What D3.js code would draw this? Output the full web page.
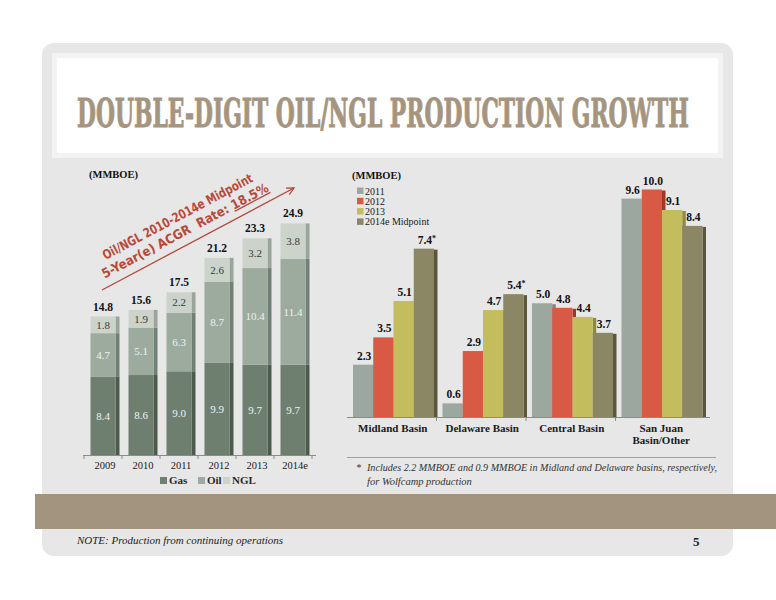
<!DOCTYPE html>
<html>
<head>
<meta charset="UTF-8">
<title>Double-Digit Oil/NGL Production Growth</title>
<script src="https://d3js.org/d3.v7.min.js"></script>
<style>
  body {margin: 0; background: #fff;}
  text {font-family: "Liberation Serif", serif;}
  .num {font-weight: bold; fill: #111; font-size: 11.5px;}
  .seg {font-size: 11px;}
  .cat {font-weight: bold; fill: #1a1a1a; font-size: 11px;}
</style>
</head>
<body>
<div id="chart"></div>
<script>
// ---- left chart data (MMBOE)
var years = ["2009", "2010", "2011", "2012", "2013", "2014e"];
var gas = [8.4, 8.6, 9.0, 9.9, 9.7, 9.7];
var oil = [4.7, 5.1, 6.3, 8.7, 10.4, 11.4];
var ngl = [1.8, 1.9, 2.2, 2.6, 3.2, 3.8];
var totals = [14.8, 15.6, 17.5, 21.2, 23.3, 24.9];
var products = ["Gas", "Oil", "NGL"];

// ---- right chart data (MMBOE)
var basins = ["Midland Basin", "Delaware Basin", "Central Basin", "San Juan Basin/Other"];
var periods = ["2011", "2012", "2013", "2014e Midpoint"];
var v2011 = [2.3, 0.6, 5.0, 9.6];
var v2012 = [3.5, 2.9, 4.8, 10.0];
var v2013 = [5.1, 4.7, 4.4, 9.1];
var v2014 = [7.4, 5.4, 3.7, 8.4];
var starred2014 = [true, true, false, false];

var svg = d3.select("#chart").append("svg")
    .attr("width", 776)
    .attr("height", 600);

// slide background
svg.append("rect").attr("x", 42).attr("y", 43).attr("width", 691).attr("height", 513)
    .attr("rx", 12).attr("fill", "#e7e7e7");
svg.append("rect").attr("x", 52).attr("y", 53).attr("width", 671).attr("height", 105).attr("fill", "#f3f3f3");
svg.append("rect").attr("x", 57).attr("y", 58).attr("width", 661).attr("height", 95).attr("fill", "#fff");

// title: squeeze horizontally to the condensed look of the slide
var titleG = svg.append("g");
var title = titleG.append("text")
    .attr("text-anchor", "middle")
    .style("font-family", "'DejaVu Serif Condensed', 'DejaVu Serif', serif")
    .style("font-weight", "bold").style("font-size", "39px")
    .attr("fill", "#a5957f").attr("stroke", "#a5957f").attr("stroke-width", 0.9)
    .text("DOUBLE-DIGIT OIL/NGL PRODUCTION GROWTH");
var natural = title.node().getComputedTextLength();
titleG.attr("transform", "translate(383,127) scale(" + (612 / natural) + ",1)");

svg.append("rect").attr("x", 35).attr("y", 494).attr("width", 741).attr("height", 35).attr("fill", "#a39480");

// ================= left: stacked bars =================
var x = d3.scaleBand().domain(years).range([84, 312]).paddingInner(0.342).paddingOuter(0.171);
var y = d3.scaleLinear().domain([0, 25]).range([455, 222.5]);
var faces = {Gas: "#6e7f70", Oil: "#9dab9f", NGL: "#cbd3cb"};
var sides = {Gas: "#4d5b4f", Oil: "#718076", NGL: "#9aa49b"};
var segText = {Gas: "#eef1ee", Oil: "#eef1ee", NGL: "#3a3a3a"};

var rows = years.map(function(d, i) { return {year: d, Gas: gas[i], Oil: oil[i], NGL: ngl[i]}; });
var stacked = d3.stack().keys(products)(rows);

var left = svg.append("g");
var layer = left.selectAll("g.layer").data(stacked).enter().append("g").attr("class", "layer");
layer.selectAll("rect.side").data(function(s) { return s.map(function(p) { return {key: s.key, p: p}; }); })
  .enter().append("rect")
    .attr("x", function(d) { return x(d.p.data.year) + x.bandwidth(); })
    .attr("y", function(d) { return y(d.p[1]); })
    .attr("width", 4)
    .attr("height", function(d) { return y(d.p[0]) - y(d.p[1]); })
    .attr("fill", function(d) { return sides[d.key]; });
layer.selectAll("rect.face").data(function(s) { return s.map(function(p) { return {key: s.key, p: p}; }); })
  .enter().append("rect")
    .attr("x", function(d) { return x(d.p.data.year); })
    .attr("y", function(d) { return y(d.p[1]); })
    .attr("width", x.bandwidth())
    .attr("height", function(d) { return y(d.p[0]) - y(d.p[1]); })
    .attr("fill", function(d) { return faces[d.key]; });
layer.selectAll("text").data(function(s) { return s.map(function(p) { return {key: s.key, p: p}; }); })
  .enter().append("text")
    .attr("class", "seg")
    .attr("x", function(d) { return x(d.p.data.year) + x.bandwidth() / 2; })
    .attr("y", function(d) { return (y(d.p[0]) + y(d.p[1])) / 2 + 4; })
    .attr("text-anchor", "middle")
    .attr("fill", function(d) { return segText[d.key]; })
    .text(function(d) { return d.p.data[d.key].toFixed(1); });

left.selectAll("text.num").data(years).enter().append("text")
    .attr("class", "num")
    .attr("x", function(d) { return x(d) + x.bandwidth() / 2; })
    .attr("y", function(d, i) { return y(totals[i]) - 6; })
    .attr("text-anchor", "middle")
    .text(function(d, i) { return totals[i].toFixed(1); });

// axis
left.append("line").attr("x1", 83).attr("x2", 316).attr("y1", 455.5).attr("y2", 455.5)
    .attr("stroke", "#8a8a8a");
var step = x.step();
left.selectAll("line.tick").data(d3.range(years.length + 1)).enter().append("line")
    .attr("x1", function(k) { return 84 + k * step; }).attr("x2", function(k) { return 84 + k * step; })
    .attr("y1", 455).attr("y2", 459).attr("stroke", "#8a8a8a");
left.selectAll("text.yr").data(years).enter().append("text")
    .attr("x", function(d) { return x(d) + x.bandwidth() / 2 + 2; })
    .attr("y", 469)
    .attr("text-anchor", "middle")
    .style("font-size", "10.5px").attr("fill", "#1a1a1a")
    .text(function(d) { return d; });

// legend
var legX = [160, 198, 223];
products.forEach(function(p, i) {
  left.append("rect").attr("x", legX[i]).attr("y", 477).attr("width", 7).attr("height", 7).attr("fill", faces[p]);
  left.append("text").attr("x", legX[i] + 9).attr("y", 484)
      .style("font-size", "11px").style("font-weight", "bold").attr("fill", "#2a2a2a").text(p);
});

left.append("text").attr("x", 89).attr("y", 178)
    .style("font-size", "10.5px").style("font-weight", "bold").attr("fill", "#111").text("(MMBOE)");

// growth arrow
svg.append("defs").append("marker")
    .attr("id", "head").attr("viewBox", "0 0 10 10").attr("refX", 9).attr("refY", 5)
    .attr("markerWidth", 9).attr("markerHeight", 9).attr("markerUnits", "userSpaceOnUse")
    .attr("orient", "auto")
  .append("path").attr("d", "M1,1 L9,5 L1,9").attr("fill", "none").attr("stroke", "#b5473a").attr("stroke-width", 1.4);
left.append("line").attr("x1", 102).attr("y1", 290).attr("x2", 294).attr("y2", 188)
    .attr("stroke", "#b5473a").attr("stroke-width", 1.3).attr("marker-end", "url(#head)");
var note = left.append("g").attr("transform", "translate(182,225) rotate(-28)")
    .style("font-family", "'DejaVu Sans Condensed', 'DejaVu Sans', sans-serif")
    .style("font-weight", "bold").style("font-size", "13px").attr("fill", "#b8493a");
note.append("text").attr("x", 0).attr("y", -5).attr("text-anchor", "middle")
    .attr("textLength", 168).attr("lengthAdjust", "spacingAndGlyphs")
    .style("font-family", "'DejaVu Sans Condensed', 'DejaVu Sans', sans-serif")
    .text("Oil/NGL 2010-2014e Midpoint");
var l2 = note.append("text").attr("x", 0).attr("y", 11).attr("text-anchor", "middle")
    .style("font-family", "'DejaVu Sans Condensed', 'DejaVu Sans', sans-serif");
l2.append("tspan").attr("xml:space", "preserve").text("5-Year(e) ACGR  Rate: ");
l2.append("tspan").attr("text-decoration", "underline").style("text-decoration", "underline").text("18.5%");

// ================= right: grouped bars =================
var x0 = d3.scaleBand().domain(basins).range([347, 705]);
var x1 = d3.scaleBand().domain(periods).range([6, 87]);
var y2 = d3.scaleLinear().domain([0, 10]).range([417, 189.5]);
var pFace = ["#9ca89f", "#d95a44", "#c3bd5e", "#8b8664"];
var pSide = ["#77837b", "#9c3828", "#8f8a3d", "#5b573d"];
var series = [v2011, v2012, v2013, v2014];

var right = svg.append("g");
var groups = right.selectAll("g.basin").data(basins).enter().append("g")
    .attr("transform", function(d) { return "translate(" + x0(d) + ",0)"; });
groups.each(function(b, bi) {
  var g = d3.select(this);
  periods.forEach(function(p, pi) {
    var v = series[pi][bi];
    g.append("rect").attr("x", x1(p) + x1.bandwidth()).attr("y", y2(v) + 1)
        .attr("width", 3.5).attr("height", y2(0) - y2(v) - 1).attr("fill", pSide[pi]);
    g.append("rect").attr("x", x1(p)).attr("y", y2(v))
        .attr("width", x1.bandwidth()).attr("height", y2(0) - y2(v)).attr("fill", pFace[pi]);
    var t = g.append("text").attr("class", "num")
        .attr("x", x1(p) + x1.bandwidth() / 2 + 1).attr("y", y2(v) - 5)
        .attr("text-anchor", "middle").text(v.toFixed(1));
    if (pi === 3 && starred2014[bi]) {
      t.attr("x", x1(p) + x1.bandwidth() / 2 + 3);
      t.append("tspan").attr("dy", -3).style("font-size", "8px").text("*");
    }
  });
});

right.append("line").attr("x1", 347).attr("x2", 710).attr("y1", 417.5).attr("y2", 417.5).attr("stroke", "#8a8a8a");
right.selectAll("line.tick").data(basins.slice(1)).enter().append("line")
    .attr("x1", function(d) { return x0(d); }).attr("x2", function(d) { return x0(d); })
    .attr("y1", 417).attr("y2", 421).attr("stroke", "#8a8a8a");
right.selectAll("text.cat").data(basins).enter().append("text")
    .attr("class", "cat")
    .attr("text-anchor", "middle")
    .attr("x", function(d) { return x0(d) + x0.bandwidth() / 2 + 1; })
    .attr("y", 432)
  .each(function(d) {
    var t = d3.select(this);
    if (d === "San Juan Basin/Other") {
      t.append("tspan").attr("x", x0(d) + x0.bandwidth() / 2 + 1).text("San Juan");
      t.append("tspan").attr("x", x0(d) + x0.bandwidth() / 2 + 1).attr("dy", 12).text("Basin/Other");
    } else {
      t.text(d);
    }
  });

right.append("text").attr("x", 352).attr("y", 179)
    .style("font-size", "10.5px").style("font-weight", "bold").attr("fill", "#111").text("(MMBOE)");
periods.forEach(function(p, i) {
  right.append("rect").attr("x", 357).attr("y", 187.5 + i * 10.3).attr("width", 6.5).attr("height", 6.5).attr("fill", pFace[i]);
  right.append("text").attr("x", 365).attr("y", 194.5 + i * 10.3)
      .style("font-size", "10px").attr("fill", "#1a1a1a").text(p);
});

// footnote
svg.append("line").attr("x1", 347).attr("x2", 716).attr("y1", 457.5).attr("y2", 457.5).attr("stroke", "#a0a0a0");
svg.append("text").attr("x", 356).attr("y", 471).style("font-size", "10px").style("font-style", "italic")
    .attr("fill", "#333").text("*");
svg.append("text").attr("x", 367).attr("y", 471).style("font-size", "10.5px").style("font-style", "italic")
    .attr("textLength", 350).attr("lengthAdjust", "spacingAndGlyphs")
    .attr("fill", "#333").text("Includes 2.2 MMBOE and 0.9 MMBOE in Midland and Delaware basins, respectively,");
svg.append("text").attr("x", 367).attr("y", 485).style("font-size", "10.5px").style("font-style", "italic")
    .attr("fill", "#333").text("for Wolfcamp production");

// footer
svg.append("text").attr("x", 77).attr("y", 544).style("font-size", "10.5px").style("font-style", "italic")
    .attr("textLength", 206).attr("lengthAdjust", "spacingAndGlyphs")
    .attr("fill", "#222").text("NOTE: Production from continuing operations");
svg.append("text").attr("x", 693).attr("y", 546).style("font-size", "13px").style("font-weight", "bold")
    .attr("fill", "#222").text("5");
</script>
</body>
</html>
